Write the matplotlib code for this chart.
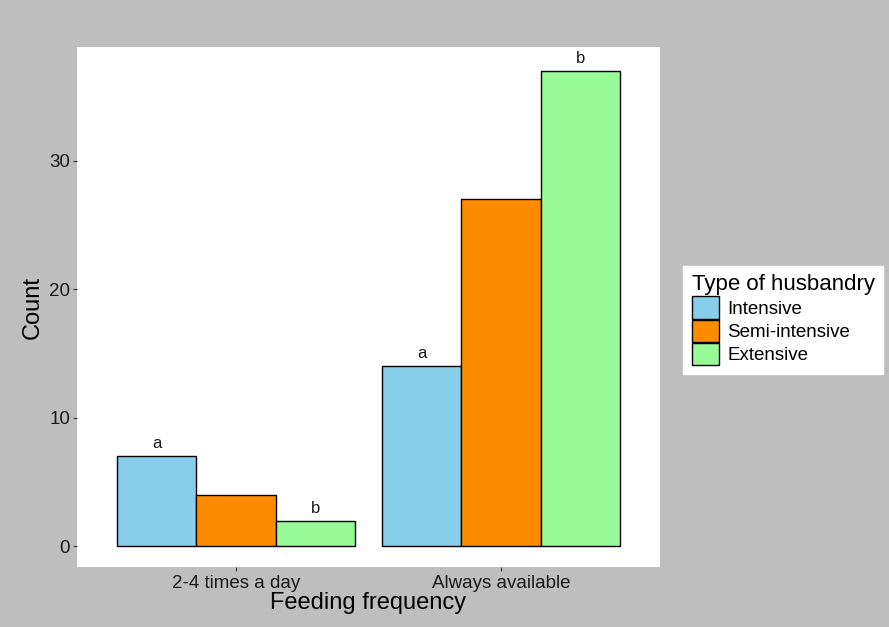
import numpy as np
import matplotlib.pyplot as plt
from matplotlib.patches import Patch

groups = ['2-4 times a day', 'Always available']
husbandry = ['Intensive', 'Semi-intensive', 'Extensive']
counts = {
    'Intensive': [7, 14],
    'Semi-intensive': [4, 27],
    'Extensive': [2, 37],
}
letters = {
    'Intensive': ['a', 'a'],
    'Semi-intensive': ['', ''],
    'Extensive': ['b', 'b'],
}
colors = ['#87CEEB', '#FF8C00', '#98FB98']
yticks = [0, 10, 20, 30]

plt.rcParams['font.family'] = ['Liberation Sans', 'DejaVu Sans']

fig = plt.figure(figsize=(8.89, 6.27), dpi=100, facecolor='#bebebe')
ax = fig.add_axes([0.0866, 0.0957, 0.6558, 0.8293])
ax.set_facecolor('white')

x = np.arange(1, len(groups) + 1)
w = 0.3
for i, name in enumerate(husbandry):
    pos = x + (i - 1) * w
    ax.bar(pos, counts[name], width=w, color=colors[i], edgecolor='black', linewidth=1)
    for px, v, lab in zip(pos, counts[name], letters[name]):
        if lab:
            ax.text(px, v + 0.4, lab, ha='center', va='bottom', fontsize=12, color='#1a1a1a')

ax.set_xlim(0.4, 2.6)
ax.set_ylim(-1.6, 38.85)
ax.set_xticks(x)
ax.set_xticklabels(groups)
ax.set_yticks(yticks)
for s in ax.spines.values():
    s.set_visible(False)
ax.tick_params(axis='both', colors='#333333', labelsize=13.5, length=3, width=0.8,
               labelcolor='#1a1a1a')
ax.tick_params(axis='y', pad=2)
ax.tick_params(axis='x', pad=2.5)
ax.set_xlabel('Feeding frequency', fontsize=17, color='black', labelpad=0)
ax.set_ylabel('Count', fontsize=17, color='black', labelpad=4)

handles = [Patch(facecolor=c, edgecolor='black', linewidth=1) for c in colors]
leg = fig.legend(handles, husbandry, title='Type of husbandry', loc='center left',
                 bbox_to_anchor=(0.758, 0.49), frameon=True, fancybox=False, framealpha=1,
                 fontsize=13.5, title_fontsize=16, handlelength=1.45, handleheight=1.45,
                 handletextpad=0.45, labelspacing=0.05, borderpad=0.45)
leg.get_frame().set_facecolor('white')
leg.get_frame().set_edgecolor('white')
leg._legend_box.align = 'left'

fig.savefig('out.png', dpi=100, facecolor=fig.get_facecolor())
